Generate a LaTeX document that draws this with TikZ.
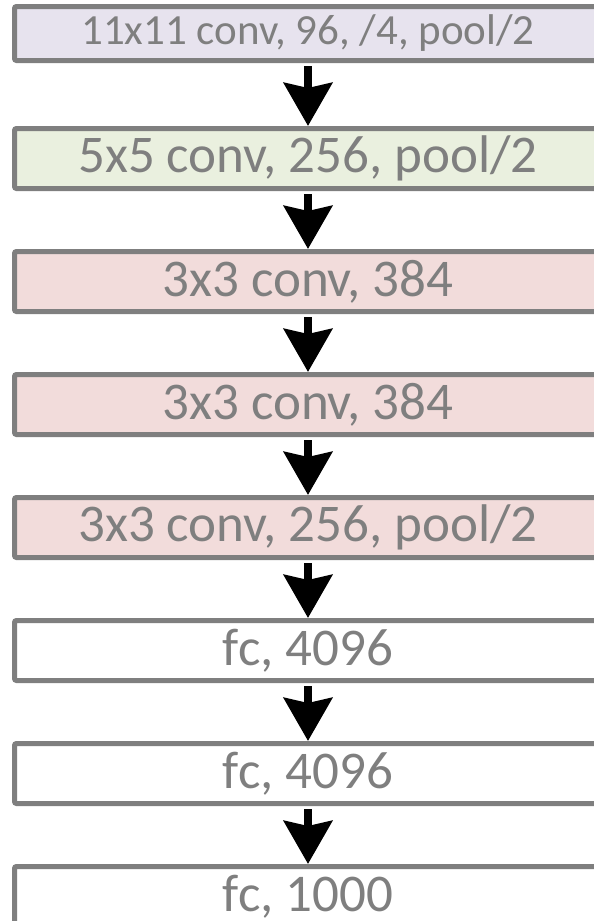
\documentclass[tikz,border=0pt]{standalone}
\usepackage{fontspec}
\setmainfont{Carlito}
\usepackage{tikz}
\usetikzlibrary{positioning}
\usetikzlibrary{arrows.meta}

\definecolor{layergray}{HTML}{7F7F7F}
\definecolor{convone}{HTML}{E7E3EE}
\definecolor{convtwo}{HTML}{EAF0DF}
\definecolor{convred}{HTML}{F2DCDB}

\tikzset{
  layer/.style={draw=layergray, line width=5pt, rounded corners=2pt,
    minimum width=587pt, minimum height=60pt, inner sep=0pt,
    text=layergray, font=\fontsize{53}{53}\selectfont},
  flow/.style={line width=8.5pt, shorten <=3pt,
    -{Stealth[length=43pt, width=48pt, inset=5pt]}}
}

\begin{document}
\begin{tikzpicture}[node distance=58pt]
    \useasboundingbox (0,0) rectangle (594pt,-921pt);
    \clip (0,0) rectangle (594pt,-921pt);

    \node[layer, fill=convone, anchor=north west, minimum height=54pt,
      font=\fontsize{43}{43}\selectfont] (b1) at (12pt,-4pt)
      {11x11 conv, 96, /4, pool/2};
    \node[layer, fill=convtwo, below=63pt of b1] (b2) {5x5 conv, 256, pool/2};
    \node[layer, fill=convred, below=of b2] (b3) {3x3 conv, 384};
    \node[layer, fill=convred, below=of b3] (b4) {3x3 conv, 384};
    \node[layer, fill=convred, below=of b4] (b5) {3x3 conv, 256, pool/2};
    \node[layer, fill=white, below=of b5] (b6) {fc, 4096};
    \node[layer, fill=white, below=of b6] (b7) {fc, 4096};
    \node[layer, fill=white, below=of b7] (b8) {fc, 1000};

    \foreach \i [evaluate=\i as \j using int(\i+1)] in {1,...,7}{
      \draw[flow] (b\i) -- (b\j);
    }

  \end{tikzpicture}
\end{document}
